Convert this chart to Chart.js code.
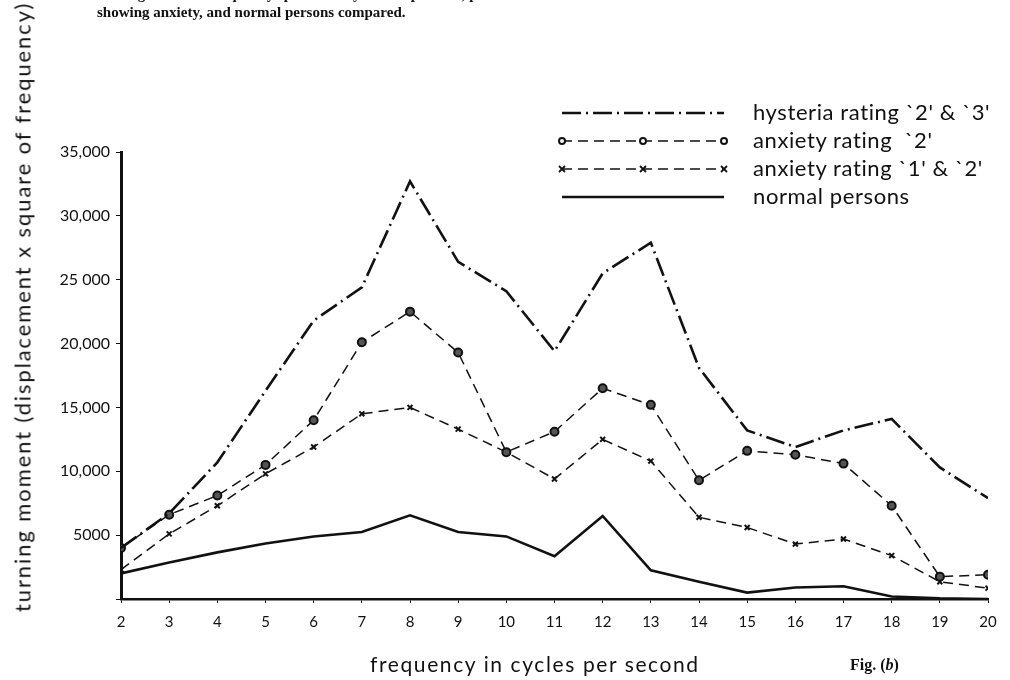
<!DOCTYPE html>
<html>
<head>
<meta charset="utf-8">
<script src="https://cdn.jsdelivr.net/npm/chart.js@4.4.1/dist/chart.umd.min.js"></script>
<style>
  body { margin: 0; background: #fff; }
  #wrap { position: relative; width: 1010px; height: 680px; overflow: hidden; }
  .txt { position: absolute; white-space: nowrap; color: #111; font-family: Lato, "DejaVu Sans", sans-serif; }
  .cap { font-family: "Liberation Serif", serif; font-weight: bold; font-size: 15px; }
  .leg { font-size: 22px; letter-spacing: 0.6px; left: 753px; line-height: 1; }
</style>
</head>
<body>
<div id="wrap">
  <canvas id="chart" width="1010" height="680"></canvas>
  <div class="txt cap" style="left:97px; top:-14px;">turning moment: frequency spectra of hysterical patients, patients</div>
  <div class="txt cap" style="left:97px; top:4px;">showing anxiety, and normal persons compared.</div>
  <div class="txt leg" style="top:101px;">hysteria rating `2' &amp; `3'</div>
  <div class="txt leg" style="top:129px;">anxiety rating &nbsp;`2'</div>
  <div class="txt leg" style="top:157px;">anxiety rating `1' &amp; `2'</div>
  <div class="txt leg" style="top:185px;">normal persons</div>
  <div class="txt" style="left:370px; top:651px; font-size:21px; letter-spacing:1.6px;">frequency in cycles per second</div>
  <div class="txt cap" style="left:850px; top:656px; font-size:16px;">Fig. (<i>b</i>)</div>
  <div class="txt" style="left:22px; top:307px; font-size:22px; letter-spacing:1.9px; transform: translate(-50%, -50%) rotate(-90deg);">turning moment (displacement x square of frequency)</div>
</div>
<script>
// frequency in cycles per second
const frequencies = [2, 3, 4, 5, 6, 7, 8, 9, 10, 11, 12, 13, 14, 15, 16, 17, 18, 19, 20];

// turning moment values
const hysteria = [4000, 6700, 10700, 16300, 21800, 24400, 32700, 26400, 24100, 19400, 25500, 27900, 18100, 13200, 11900, 13200, 14100, 10300, 7900];
const anxiety2 = [4000, 6600, 8100, 10500, 14000, 20100, 22500, 19300, 11500, 13100, 16500, 15200, 9300, 11600, 11300, 10600, 7300, 1750, 1900];
const anxiety12 = [2300, 5100, 7300, 9800, 11900, 14500, 15000, 13300, 11500, 9400, 12500, 10800, 6400, 5600, 4300, 4700, 3400, 1350, 850];
const normal = [2000, 2850, 3650, 4350, 4900, 5250, 6550, 5250, 4900, 3350, 6500, 2250, 1350, 500, 900, 1000, 200, 50, 0];

const yTickLabels = ["", "5000", "10,000", "15,000", "20,000", "25 000", "30,000", "35,000"];

const pts = arr => frequencies.map((f, i) => ({ x: f, y: arr[i] }));

// draws the legend samples using each dataset's own line style
const legendSamples = {
  id: "legendSamples",
  afterDraw(chart) {
    const ctx = chart.ctx;
    const rows = [113, 141, 169, 197];
    const x0 = 562, x1 = 724;
    chart.data.datasets.forEach((ds, i) => {
      const y = rows[i];
      ctx.save();
      ctx.strokeStyle = "#111";
      ctx.lineWidth = ds.borderWidth;
      ctx.setLineDash(ds.borderDash || []);
      ctx.beginPath();
      ctx.moveTo(x0, y);
      ctx.lineTo(x1, y);
      ctx.stroke();
      ctx.setLineDash([]);
      if (ds.pointRadius > 0) {
        [x0, (x0 + x1) / 2, x1].forEach(px => {
          if (ds.pointStyle === "circle") {
            ctx.beginPath();
            ctx.arc(px, y, 3, 0, Math.PI * 2);
            ctx.fillStyle = "#fff";
            ctx.fill();
            ctx.lineWidth = 2;
            ctx.stroke();
          } else {
            const r = 3;
            ctx.lineWidth = 1.8;
            ctx.beginPath();
            ctx.moveTo(px - r, y - r); ctx.lineTo(px + r, y + r);
            ctx.moveTo(px + r, y - r); ctx.lineTo(px - r, y + r);
            ctx.stroke();
          }
        });
      }
      ctx.restore();
    });
  }
};

new Chart(document.getElementById("chart"), {
  type: "line",
  data: {
    datasets: [
      {
        label: "hysteria rating `2' & `3'",
        data: pts(hysteria),
        borderColor: "#111",
        borderWidth: 2.6,
        borderDash: [19, 5, 2, 5],
        pointRadius: 0,
      },
      {
        label: "anxiety rating `2'",
        data: pts(anxiety2),
        borderColor: "#111",
        borderWidth: 1.5,
        borderDash: [10, 6],
        pointStyle: "circle",
        pointRadius: 4,
        pointBorderWidth: 2,
        pointBackgroundColor: "#555",
        pointBorderColor: "#111",
      },
      {
        label: "anxiety rating `1' & `2'",
        data: pts(anxiety12),
        borderColor: "#111",
        borderWidth: 1.5,
        borderDash: [10, 6],
        pointStyle: "crossRot",
        pointRadius: 3.5,
        pointBorderWidth: 2,
        pointBorderColor: "#111",
      },
      {
        label: "normal persons",
        data: pts(normal),
        borderColor: "#111",
        borderWidth: 2.6,
        pointRadius: 0,
      },
    ],
  },
  options: {
    responsive: false,
    animation: false,
    layout: { padding: { top: 152, right: 22, left: 0, bottom: 0 } },
    plugins: {
      legend: { display: false },
      tooltip: { enabled: false },
    },
    scales: {
      x: {
        type: "linear",
        min: 2,
        max: 20,
        afterFit: s => { s.height = 81; },
        border: { display: true, color: "#111", width: 2.5 },
        grid: { drawOnChartArea: false, drawTicks: true, tickLength: 4, color: "#111" },
        ticks: {
          stepSize: 1,
          padding: 10,
          color: "#111",
          font: { family: "Lato", size: 15 },
        },
      },
      y: {
        min: 0,
        max: 35000,
        afterFit: s => { s.width = 121; },
        border: { display: true, color: "#111", width: 3 },
        grid: { drawOnChartArea: false, drawTicks: true, tickLength: 5, color: "#111" },
        ticks: {
          stepSize: 5000,
          padding: 6,
          color: "#111",
          font: { family: "Lato", size: 16 },
          callback: v => yTickLabels[v / 5000],
        },
      },
    },
  },
  plugins: [legendSamples],
});
</script>
</body>
</html>
